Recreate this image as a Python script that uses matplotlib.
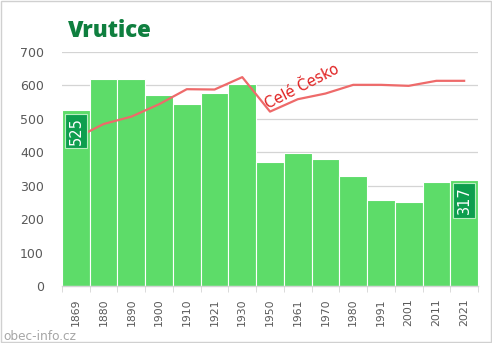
import matplotlib
matplotlib.use("Agg")
import matplotlib.pyplot as plt
from matplotlib.patches import Rectangle
import numpy as np

years = ["1869", "1880", "1890", "1900", "1910", "1921", "1930", "1950",
         "1961", "1970", "1980", "1991", "2001", "2011", "2021"]
population = [525, 617, 619, 570, 544, 577, 603, 371, 398, 380, 329, 258, 252, 311, 317]
# Whole-country trend, rescaled to the village axis
czech_trend = [442, 484, 506, 543, 588, 587, 624, 521, 558, 575, 601, 601, 598, 613, 613]
yticks = [0, 100, 200, 300, 400, 500, 600, 700]

BAR = "#5ddc69"
DARK = "#0e9e4e"
TITLE = "#0f7f3f"
LINE = "#ee6a6a"
GREY = "#595959"

fig = plt.figure(figsize=(4.92, 3.43), dpi=100)
ax = fig.add_axes([62 / 492, 1 - 286 / 343, (478 - 62) / 492, (286 - 51.7) / 343])

x = np.arange(len(years))
ax.bar(x, population, width=1.0, color=BAR, edgecolor="white", linewidth=0.8, zorder=2)
ax.plot(x, czech_trend, color=LINE, linewidth=1.6, zorder=3)

ax.set_xlim(-0.5, len(years) - 0.5)
ax.set_ylim(0, 700)
ax.set_yticks(yticks)
ax.grid(axis="y", color="#d4d4d4", linewidth=0.9, zorder=0)
ax.set_axisbelow(True)
for side in ["left", "right", "top"]:
    ax.spines[side].set_visible(False)
ax.spines["bottom"].set_color("#d4d4d4")
ax.spines["bottom"].set_linewidth(1.0)

ax.set_xticks(x)
ax.set_xticklabels(years, rotation=90, fontsize=7.8, color=GREY)
ax.set_xticks(np.arange(len(years) + 1) - 0.5, minor=True)
ax.tick_params(axis="x", which="major", length=0, pad=9)
ax.tick_params(axis="x", which="minor", length=4, color="#d4d4d4")
ax.tick_params(axis="y", length=0, pad=13, labelsize=9, labelcolor=GREY)

# Value boxes on first and last bar
for idx in (0, len(years) - 1):
    v = population[idx]
    ax.text(idx, v - 20, str(v), rotation=90, ha="center", va="top",
            color="white", fontsize=10.5, zorder=5,
            bbox=dict(boxstyle="square,pad=0.22", facecolor=DARK,
                      edgecolor="#b8eec0", linewidth=0.8))

ax.text(6.97, 522, "Celé Česko", rotation=27, color="#e02020", fontsize=10.5,
        ha="left", va="bottom", rotation_mode="anchor", zorder=4)

fig.text(68 / 492, 1 - 37 / 343, "Vrutice", color=TITLE, fontsize=16,
         fontweight="heavy", ha="left", va="baseline", family="Open Sans")
fig.text(3 / 492, 1 - 340 / 343, "obec-info.cz", color="#a6a6a6", fontsize=8.7,
         ha="left", va="baseline")

fig.patches.append(Rectangle((0.002, 0.003), 0.995, 0.994, transform=fig.transFigure,
                             fill=False, edgecolor="#d0d0d0", linewidth=1.0))

fig.savefig("out.png", dpi=100)
